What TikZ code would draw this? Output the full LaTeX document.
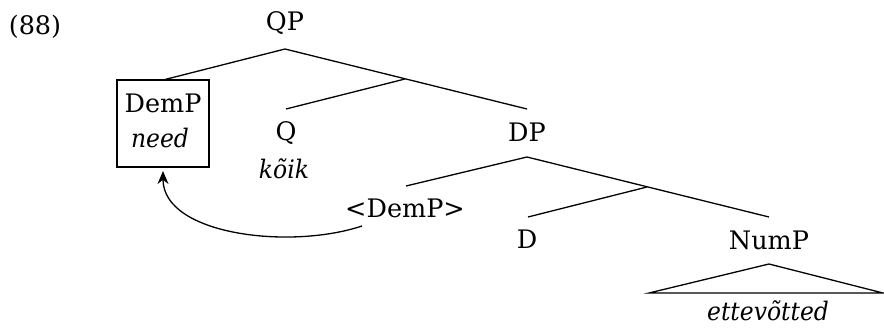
\documentclass[tikz,border=0pt]{standalone}
\usepackage{fontspec}
\setmainfont{DejaVu Serif}[ItalicFeatures={FakeStretch=0.92}]
\usetikzlibrary{arrows.meta}
\begin{document}
\begin{tikzpicture}[x=1pt,y=-1pt,
  lab/.style={inner sep=0pt,anchor=base,font=\fontsize{25.5}{31}\selectfont},
  branch/.style={line width=1.3pt},
  movearrow/.style={line width=1.3pt,-{Stealth[length=13pt,width=11pt]}}]
\useasboundingbox (0,0) rectangle (884,329);
% labels
\node[lab] (ex) at (35,35) {(88)};
\node[lab] (QP) at (285,31) {QP};
\node[draw,line width=1.3pt,minimum width=92pt,minimum height=87pt,inner sep=0pt] (box) at (163,123.5) {};
\node[lab] (DemP) at (163,112) {DemP};
\node[lab] (need) at (160,147) {\textit{need}};
\node[lab] (Q) at (286,140) {Q};
\node[lab] (koik) at (284,178) {\textit{kõik}};
\node[lab] (DP) at (527,141) {DP};
\node[lab] (tDemP) at (405,217) {<DemP>};
\node[lab] (D) at (527,248) {D};
\node[lab] (NumP) at (769,249) {NumP};
\node[lab] (ette) at (768,320) {\textit{ettevõtted}};
% branch points
\coordinate (qpb) at (285,49);
\coordinate (boxt) at (163,80);
\coordinate (qbar) at (405,79);
\coordinate (qt) at (286,109);
\coordinate (dpt) at (527,109);
\coordinate (dpb) at (527,157);
\coordinate (tdt) at (406,186);
\coordinate (dbar) at (647,187);
\coordinate (dt) at (528,217);
\coordinate (numt) at (769,217);
\coordinate (tri) at (769,264);
\coordinate (tril) at (649,293);
\coordinate (trir) at (883,293);
\coordinate (arrs) at (362,226);
\coordinate (arre) at (163,171);
% branches
\draw[branch] (boxt) -- (qpb) -- (dpt);
\draw[branch] (qbar) -- (qt);
\draw[branch] (tdt) -- (dpb) -- (numt);
\draw[branch] (dbar) -- (dt);
\draw[branch,line join=miter] (tril) -- (tri) -- (trir) -- cycle;
% movement
\draw[movearrow] (arrs) .. controls (290,250) and (163,235) .. (arre);
\end{tikzpicture}
\end{document}
